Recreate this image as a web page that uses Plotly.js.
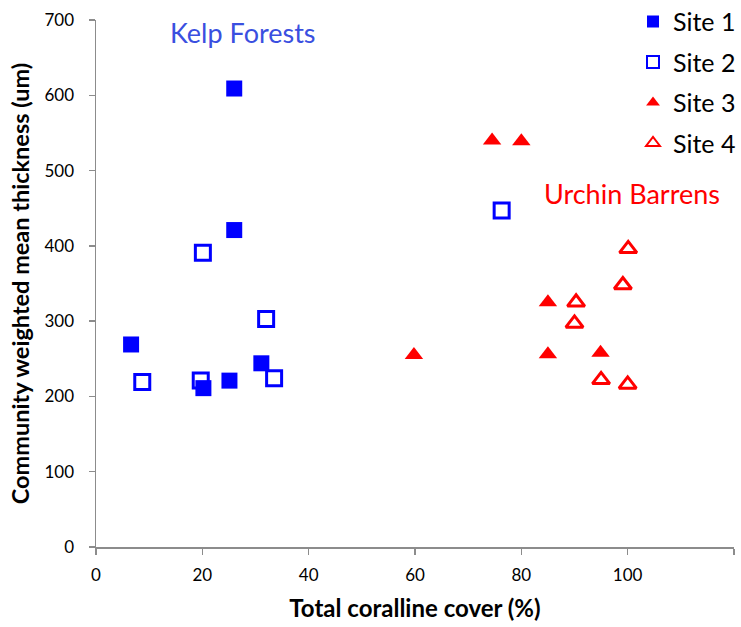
<!DOCTYPE html>
<html>
<head>
<meta charset="utf-8">
<script src="https://cdn.plot.ly/plotly-3.0.1.min.js"></script>
<style>html,body{margin:0;padding:0;background:#fff;}#chart{width:741px;height:627px;}</style>
</head>
<body>
<div id="chart"></div>
<script>
// Data
var site1X = [26, 26, 6.6, 20.2, 25.1, 31.1];
var site1Y = [609, 421, 269, 211, 221, 244];
var site2X = [20.1, 32, 8.7, 19.7, 33.5, 76.3];
var site2Y = [391, 303, 219, 221, 224, 447];
var site3X = [74.5, 80, 85, 59.8, 85, 94.9];
var site3Y = [540, 539, 325, 255, 256, 258];
var site4X = [100.1, 99.1, 90.3, 90, 95, 100];
var site4Y = [396, 348, 325, 297, 222, 216];
var seriesNames = ["Site 1", "Site 2", "Site 3", "Site 4"];
var xTickVals = [0, 20, 40, 60, 80, 100, 120];
var xTickText = ["0", "20", "40", "60", "80", "100", ""];
var yTickVals = [0, 100, 200, 300, 400, 500, 600, 700];
var yTickText = ["0", "100", "200", "300", "400", "500", "600", "700"];
var regionLabels = ["Kelp Forests", "Urchin Barrens"];
var regionLabelX = [27.6, 100.8];
var regionLabelY = [684, 470];

var FONT = "Lato, 'Open Sans', sans-serif";
var BLUE = "#0000FF", RED = "#FF0000";

var traces = [
  {x: site1X, y: site1Y, name: seriesNames[0], legendgroup: "g1", type: "scatter", mode: "markers",
   marker: {symbol: "square", size: 16, color: BLUE, line: {width: 0}}},
  {x: site2X, y: site2Y, name: seriesNames[1], legendgroup: "g2", type: "scatter", mode: "markers",
   marker: {symbol: "square-open", size: 15, color: BLUE, line: {width: 3, color: BLUE}}},
  {x: site3X, y: site3Y, name: seriesNames[2], legendgroup: "g3", type: "scatter", mode: "markers",
   marker: {symbol: "triangle-up", size: 16, color: RED, line: {width: 0}}},
  {x: site4X, y: site4Y, name: seriesNames[3], legendgroup: "g4", type: "scatter", mode: "markers",
   marker: {symbol: "triangle-up-open", size: 15, color: RED, line: {width: 3, color: RED}}}
];

var axisCommon = {
  showgrid: false, zeroline: false, showline: true, linecolor: "#8c8c8c", linewidth: 1.5,
  ticks: "outside", ticklen: 6, tickwidth: 1.5, tickcolor: "#8c8c8c",
  tickfont: {family: FONT, size: 17, color: "#000"}, tickmode: "array", automargin: false
};

var layout = {
  width: 741, height: 627,
  margin: {l: 96, r: 7, t: 20, b: 80, autoexpand: false},
  paper_bgcolor: "#fff", plot_bgcolor: "#fff",
  font: {family: FONT, color: "#000"},
  xaxis: Object.assign({}, axisCommon, {
    range: [0, 120], tickvals: xTickVals, ticktext: xTickText, ticklabelstandoff: 6,
    title: {text: "Total coralline cover (%)", font: {family: FONT, size: 24, color: "#000", weight: "bold"}, standoff: 16}
  }),
  yaxis: Object.assign({}, axisCommon, {
    range: [0, 700], tickvals: yTickVals, ticktext: yTickText, ticklabelstandoff: 11,
    title: {text: "Community weighted mean thickness (um)", font: {family: FONT, size: 23.5, color: "#000", weight: "bold"}, standoff: 8}
  }),
  showlegend: true,
  legend: {
    x: 0.8417, y: 1.0405, xanchor: "left", yanchor: "top",
    font: {family: FONT, size: 25, color: "#000"},
    bgcolor: "rgba(0,0,0,0)", itemsizing: "constant", tracegroupgap: 5
  },
  annotations: [
    {x: regionLabelX[0], y: regionLabelY[0], xref: "x", yref: "y", text: regionLabels[0], showarrow: false,
     font: {family: FONT, size: 27, color: "#3A4FE0"}},
    {x: regionLabelX[1], y: regionLabelY[1], xref: "x", yref: "y", text: regionLabels[1], showarrow: false,
     font: {family: FONT, size: 27, color: "#FF0000"}}
  ]
};

Plotly.newPlot("chart", traces, layout, {displayModeBar: false, staticPlot: true});
</script>
</body>
</html>
